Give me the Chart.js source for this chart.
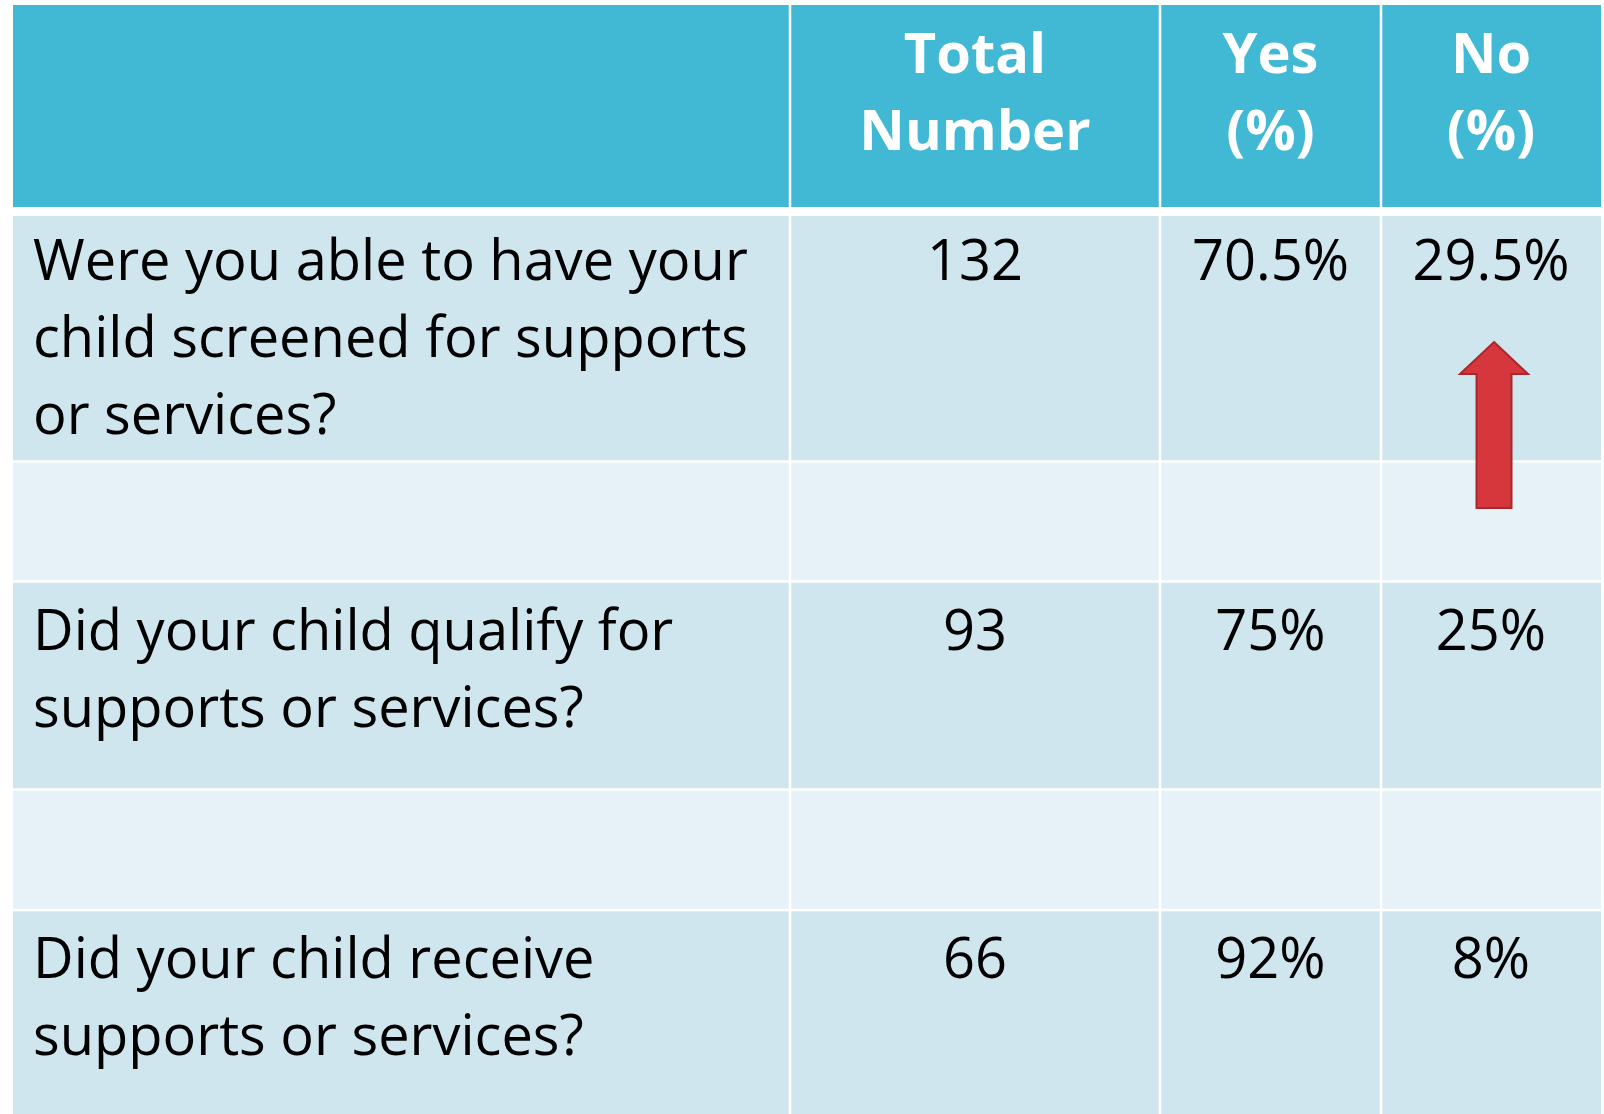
<!DOCTYPE html>
<html>
<head>
<meta charset="utf-8">
<script src="https://cdn.jsdelivr.net/npm/chart.js@4.4.1/dist/chart.umd.min.js"></script>
<style>
  html, body { margin: 0; padding: 0; background: #fff; }
  #wrap { width: 1604px; height: 1114px; }
</style>
</head>
<body>
<div id="wrap"><canvas id="surveyTable" width="1604" height="1114"></canvas></div>
<script>
// Table data
const headerLines = [[], ['Total', 'Number'], ['Yes', '(%)'], ['No', '(%)']];
const questions = [
  ['Were you able to have your', 'child screened for supports', 'or services?'],
  ['Did your child qualify for', 'supports or services?'],
  ['Did your child receive', 'supports or services?'],
];
const totals = [132, 93, 66];
const yesPct = [70.5, 75, 92];
const noPct = [29.5, 25, 8];

// Layout (in scale units)
const colEdges = [13, 790, 1160, 1381, 1601];
const rowEdges = [5, 211.5, 461.5, 581.5, 789.5, 910, 1114];
const rowKinds = ['header', 'question', 'spacer', 'question', 'spacer', 'question'];
const colors = {
  header: '#42b9d4',
  question: '#cfe6ee',
  spacer: '#e7f2f8',
  grid: '#ffffff',
};
const textPad = 20;
const baselineOffset = 68;
const lineHeight = 77;
const bodyFont = '56px "Open Sans"';
const headFont = 'bold 56px "Open Sans"';

function fmtPct(v) {
  return v + '%';
}

const tablePlugin = {
  id: 'surveyTable',
  beforeDatasetsDraw(chart) {
    const { ctx, scales: { x, y } } = chart;
    const px = (v) => x.getPixelForValue(v);
    const py = (v) => y.getPixelForValue(v);

    ctx.save();
    // cell backgrounds
    rowKinds.forEach((kind, r) => {
      ctx.fillStyle = colors[kind];
      ctx.fillRect(px(colEdges[0]), py(rowEdges[r]),
        px(colEdges[colEdges.length - 1]) - px(colEdges[0]),
        py(rowEdges[r + 1]) - py(rowEdges[r]));
    });

    // white grid lines
    ctx.strokeStyle = colors.grid;
    for (let c = 1; c < colEdges.length - 1; c++) {
      ctx.lineWidth = 2.5;
      ctx.beginPath();
      ctx.moveTo(px(colEdges[c]), py(rowEdges[0]));
      ctx.lineTo(px(colEdges[c]), py(rowEdges[rowEdges.length - 1]));
      ctx.stroke();
    }
    for (let r = 1; r < rowEdges.length - 1; r++) {
      ctx.lineWidth = r === 1 ? 9 : 2.5;
      ctx.beginPath();
      ctx.moveTo(px(colEdges[0]), py(rowEdges[r]));
      ctx.lineTo(px(colEdges[colEdges.length - 1]), py(rowEdges[r]));
      ctx.stroke();
    }

    // header text
    ctx.fillStyle = '#ffffff';
    ctx.font = headFont;
    ctx.textAlign = 'center';
    ctx.textBaseline = 'alphabetic';
    headerLines.forEach((lines, c) => {
      const cx = px((colEdges[c] + colEdges[c + 1]) / 2);
      lines.forEach((line, i) => {
        ctx.fillText(line, cx, py(rowEdges[0] + baselineOffset + i * lineHeight));
      });
    });

    // body rows
    ctx.fillStyle = '#000000';
    ctx.font = bodyFont;
    let q = 0;
    rowKinds.forEach((kind, r) => {
      if (kind !== 'question') return;
      const top = rowEdges[r] + baselineOffset;
      ctx.textAlign = 'left';
      questions[q].forEach((line, i) => {
        ctx.fillText(line, px(colEdges[0] + textPad), py(top + i * lineHeight));
      });
      ctx.textAlign = 'center';
      const cells = [String(totals[q]), fmtPct(yesPct[q]), fmtPct(noPct[q])];
      cells.forEach((txt, i) => {
        const cx = px((colEdges[i + 1] + colEdges[i + 2]) / 2);
        ctx.fillText(txt, cx, py(top));
      });
      q++;
    });

    // red arrow in the "No" column of the first question
    const ax = 1494;
    const arrow = [
      [ax, 342], [ax + 34, 374], [ax + 17.5, 374], [ax + 17.5, 508],
      [ax - 17.5, 508], [ax - 17.5, 374], [ax - 34, 374],
    ];
    ctx.beginPath();
    arrow.forEach(([ux, uy], i) => {
      if (i === 0) ctx.moveTo(px(ux), py(uy));
      else ctx.lineTo(px(ux), py(uy));
    });
    ctx.closePath();
    ctx.fillStyle = '#d5373c';
    ctx.fill();
    ctx.lineWidth = 2;
    ctx.strokeStyle = '#a8282d';
    ctx.stroke();
    ctx.restore();
  },
};

new Chart(document.getElementById('surveyTable'), {
  type: 'scatter',
  data: { datasets: [{ data: [], pointRadius: 0 }] },
  options: {
    responsive: false,
    animation: false,
    devicePixelRatio: 1,
    layout: { padding: 0 },
    plugins: { legend: { display: false }, tooltip: { enabled: false } },
    scales: {
      x: { type: 'linear', min: 0, max: 1604, display: false },
      y: { type: 'linear', min: 0, max: 1114, reverse: true, display: false },
    },
  },
  plugins: [tablePlugin],
});
</script>
</body>
</html>
